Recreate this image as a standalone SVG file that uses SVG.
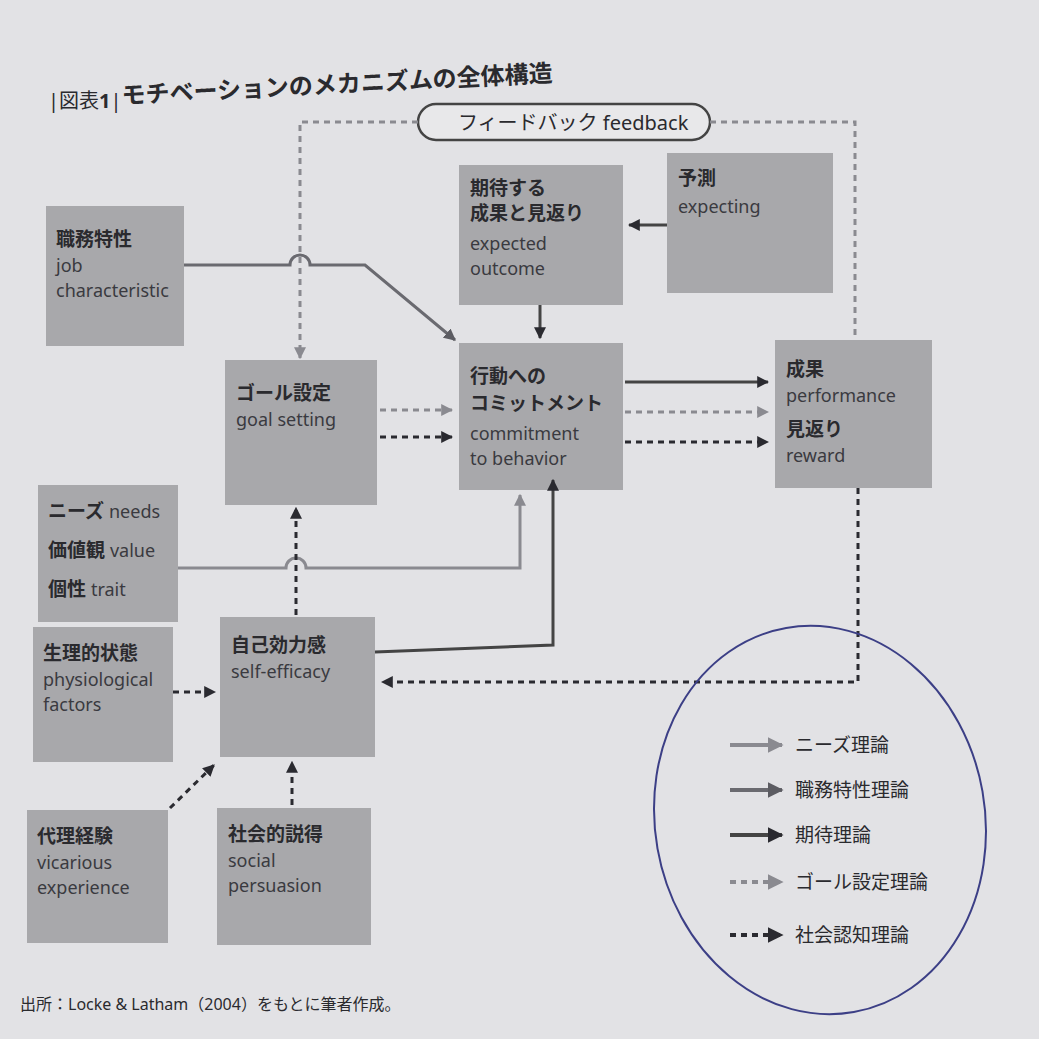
<svg xmlns="http://www.w3.org/2000/svg" width="1039" height="1039" viewBox="0 0 1039 1039">
<defs>
<style>
.bx{fill:#a8a8ab}
text{font-family:"Noto Sans","Noto Sans CJK JP",sans-serif;fill:#2a2a2e}
.jp{font-size:19px;font-weight:bold}
.en{font-size:18px;fill:#3a3a40}
.sol{fill:none;stroke:#444;stroke-width:3}
.mid{fill:none;stroke:#6a6a70;stroke-width:3}
.lt{fill:none;stroke:#8a8a90;stroke-width:3}
.dk{fill:none;stroke:#2a2a30;stroke-width:3;stroke-dasharray:6 5}
.dg{fill:none;stroke:#8a8a90;stroke-width:3;stroke-dasharray:6 5}
.lg{stroke-width:4}
</style>
<marker id="ad" viewBox="0 0 10 10" refX="9" refY="5" markerWidth="4" markerHeight="4" orient="auto"><path d="M0,0L10,5L0,10z" fill="#2a2a30"/></marker>
<marker id="am" viewBox="0 0 10 10" refX="9" refY="5" markerWidth="4" markerHeight="4" orient="auto"><path d="M0,0L10,5L0,10z" fill="#5c5c62"/></marker>
<marker id="al" viewBox="0 0 10 10" refX="9" refY="5" markerWidth="4" markerHeight="4" orient="auto"><path d="M0,0L10,5L0,10z" fill="#8a8a90"/></marker>
</defs>
<rect width="1039" height="1039" fill="#e2e2e5"/>
<text x="48" y="108" style="font-size:20px">|図表<tspan font-weight="bold">1</tspan>|</text>
<text x="122" y="104" style="font-size:24px;font-weight:bold" transform="rotate(-3 122 104)">モチベーションのメカニズムの全体構造</text>

<g id="feedback"><rect x="418" y="104" width="292" height="36" rx="18" fill="#e8e8ea" stroke="#444" stroke-width="2.5"/><text x="458" y="130" style="font-size:20px">フィードバック feedback</text></g>
<g id="job"><rect class="bx" x="46" y="206" width="138" height="140"/><text class="jp" x="56" y="246">職務特性</text><text class="en" x="56" y="272">job</text><text class="en" x="56" y="297">characteristic</text></g>
<g id="goal"><rect class="bx" x="225" y="360" width="152" height="145"/><text class="jp" x="236" y="400">ゴール設定</text><text class="en" x="236" y="426">goal setting</text></g>
<g id="expected"><rect class="bx" x="459" y="165" width="164" height="140"/><text class="jp" x="470" y="195">期待する</text><text class="jp" x="470" y="220">成果と見返り</text><text class="en" x="470" y="250">expected</text><text class="en" x="470" y="275">outcome</text></g>
<g id="expecting"><rect class="bx" x="667" y="153" width="166" height="140"/><text class="jp" x="678" y="185">予測</text><text class="en" x="678" y="213">expecting</text></g>
<g id="commit"><rect class="bx" x="459" y="343" width="164" height="147"/><text class="jp" x="470" y="383">行動への</text><text class="jp" x="470" y="410">コミットメント</text><text class="en" x="470" y="440">commitment</text><text class="en" x="470" y="465">to behavior</text></g>
<g id="perf"><rect class="bx" x="775" y="340" width="157" height="148"/><text class="jp" x="786" y="376">成果</text><text class="en" x="786" y="402">performance</text><text class="jp" x="786" y="436">見返り</text><text class="en" x="786" y="462">reward</text></g>
<g id="needs"><rect class="bx" x="38" y="485" width="140" height="137"/><text class="jp" x="48" y="518">ニーズ <tspan class="en" font-weight="normal">needs</tspan></text><text class="jp" x="48" y="557">価値観 <tspan class="en" font-weight="normal">value</tspan></text><text class="jp" x="48" y="596">個性 <tspan class="en" font-weight="normal">trait</tspan></text></g>
<g id="physio"><rect class="bx" x="33" y="627" width="140" height="135"/><text class="jp" x="43" y="660">生理的状態</text><text class="en" x="43" y="686">physiological</text><text class="en" x="43" y="711">factors</text></g>
<g id="selfeff"><rect class="bx" x="220" y="617" width="155" height="140"/><text class="jp" x="231" y="652">自己効力感</text><text class="en" x="231" y="678">self-efficacy</text></g>
<g id="vicar"><rect class="bx" x="27" y="810" width="141" height="133"/><text class="jp" x="37" y="843">代理経験</text><text class="en" x="37" y="869">vicarious</text><text class="en" x="37" y="894">experience</text></g>
<g id="social"><rect class="bx" x="217" y="808" width="154" height="137"/><text class="jp" x="228" y="841">社会的説得</text><text class="en" x="228" y="867">social</text><text class="en" x="228" y="892">persuasion</text></g>

<g id="connectors">
<path class="dg" d="M418,122H300V358" marker-end="url(#al)"/>
<path class="dg" d="M710,122H855V340"/>
<path class="mid" d="M184,265H290a10,10 0 0 1 20,0H365L455,340" marker-end="url(#am)"/>
<path class="sol" d="M667,225H629" marker-end="url(#ad)"/>
<path class="sol" d="M540,305V338" marker-end="url(#ad)"/>
<path class="sol" d="M625,382H768" marker-end="url(#ad)"/>
<path class="dg" d="M380,410H452" marker-end="url(#al)"/>
<path class="dk" d="M380,437H452" marker-end="url(#ad)"/>
<path class="dg" d="M625,412H768" marker-end="url(#al)"/>
<path class="dk" d="M625,442H768" marker-end="url(#ad)"/>
<path class="lt" d="M178,568H286a10,10 0 0 1 20,0H520V495" marker-end="url(#al)"/>
<path class="sol" d="M375,652L553,645V480" marker-end="url(#ad)"/>
<path class="dk" d="M296,615V508" marker-end="url(#ad)"/>
<path class="dk" d="M858,488V682H382" marker-end="url(#ad)"/>
<path class="dk" d="M173,692H215" marker-end="url(#ad)"/>
<path class="dk" d="M170,808L214,765" marker-end="url(#ad)"/>
<path class="dk" d="M292,805V762" marker-end="url(#ad)"/>
</g>

<g id="legend">
<path class="lt lg" d="M730,745H782" marker-end="url(#al)"/><text x="795" y="752" style="font-size:19px">ニーズ理論</text>
<path class="mid lg" d="M730,790H782" marker-end="url(#am)"/><text x="795" y="797" style="font-size:19px">職務特性理論</text>
<path class="sol lg" d="M730,835H782" marker-end="url(#ad)"/><text x="795" y="842" style="font-size:19px">期待理論</text>
<path class="dg lg" d="M730,882H782" marker-end="url(#al)"/><text x="795" y="889" style="font-size:19px">ゴール設定理論</text>
<path class="dk lg" d="M730,935H782" marker-end="url(#ad)"/><text x="795" y="942" style="font-size:19px">社会認知理論</text>
<ellipse cx="820" cy="820" rx="165" ry="195" fill="none" stroke="#3c3f86" stroke-width="2" transform="rotate(-10 820 820)"/>
</g>
<text x="20" y="1010" style="font-size:16px">出所：Locke &amp; Latham（2004）をもとに筆者作成。</text>
</svg>
